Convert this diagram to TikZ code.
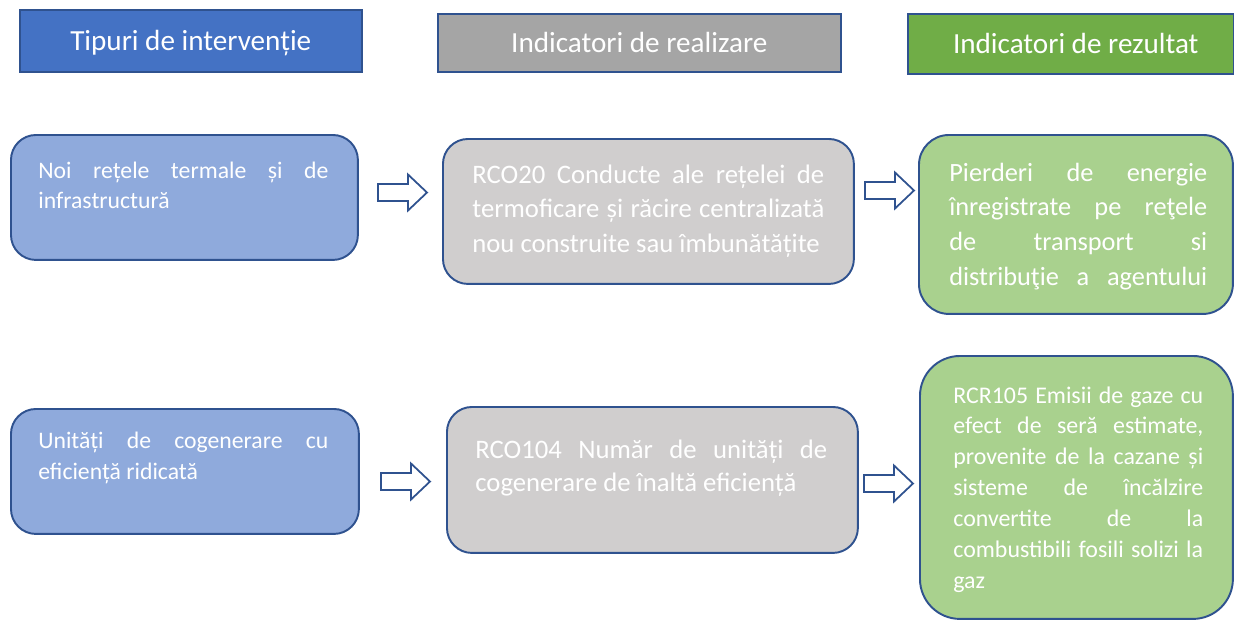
\documentclass[tikz,border=0pt]{standalone}
\usepackage{fontspec}
\setmainfont{Carlito}
\usetikzlibrary{calc}
\definecolor{edgeblue}{HTML}{2F528F}
\definecolor{hdrblue}{HTML}{4472C4}
\definecolor{hdrgray}{HTML}{A5A5A5}
\definecolor{hdrgreen}{HTML}{70AD47}
\definecolor{boxblue}{HTML}{8FAADC}
\definecolor{boxgray}{HTML}{D0CECE}
\definecolor{boxgreen}{HTML}{A9D18E}
\tikzset{
  hdr/.style={draw=edgeblue, line width=0.9pt, anchor=north west, text=white, inner sep=0pt, text height=11.4pt, text depth=0pt, font=\fontsize{16.6}{19}\selectfont},
  blk/.style={draw=edgeblue, line width=1.1pt, anchor=north west, rounded corners=0.5cm, inner sep=0pt},
  txt/.style={anchor=base west, inner sep=0pt, text=white, align=justify},
  arr/.style={draw=edgeblue, line width=1pt, fill=white, line join=miter}
}
\def\blockarrow(#1,#2){\draw[arr] (#1,#2) ++(0,-8.5) -- ++(30,0) -- ++(0,-9.5) -- ++(19,18) -- ++(-19,18) -- ++(0,-9.5) -- ++(-30,0) -- cycle;}

\begin{document}
\begin{tikzpicture}[x=0.02cm, y=-0.02cm]
	%%%%% START %%%%%
	\useasboundingbox (0,0) rectangle (1234,620);
	
	\node[hdr, fill=hdrblue, minimum width=6.84cm, minimum height=1.24cm] (h1) at (19,9) {Tipuri de intervenție};
	\node[hdr, fill=hdrgray, minimum width=8.06cm, minimum height=1.16cm] (h2) at (437,13) {Indicatori de realizare};
	\node[hdr, fill=hdrgreen, minimum width=6.52cm, minimum height=1.2cm] (h3) at (907,13) {\hspace{0.2cm}Indicatori de rezultat};
	
	\node[blk, fill=boxblue, minimum width=6.94cm, minimum height=2.5cm] (a1) at (10,134) {};
	\node[blk, fill=boxgray, minimum width=8.22cm, minimum height=2.9cm] (b1) at (442,138) {};
	\node[blk, fill=boxgreen, minimum width=6.28cm, minimum height=3.58cm, rounded corners=0.6cm] (c1) at (918,134) {};
	
	\node[blk, fill=boxblue, minimum width=6.96cm, minimum height=2.5cm] (a2) at (10,408) {};
	\node[blk, fill=boxgray, minimum width=8.22cm, minimum height=2.92cm] (b2) at (446,406) {};
	\node[blk, fill=boxgreen, minimum width=6.26cm, minimum height=5.26cm, rounded corners=0.8cm] (c2) at (919,355) {};
	
	\node[txt, text width=5.8cm, font=\fontsize{13.5}{17.6}\selectfont] (a1t) at (38,178)
		{Noi rețele termale și de\linebreak infrastructură};
	\node[txt, text width=7.04cm, font=\fontsize{15.2}{19.8}\selectfont] (b1t) at (472,183)
		{RCO20 Conducte ale rețelei de\linebreak termoficare și răcire centralizată\linebreak nou construite sau îmbunătățite};
	\node[txt, text width=5.16cm, font=\fontsize{15}{19.8}\selectfont] (c1t) at (949,181)
		{Pierderi de energie\linebreak înregistrate pe reţele\linebreak de transport si\linebreak distribuţie a agentului\linebreak};
	
	\node[txt, text width=5.8cm, font=\fontsize{13.5}{18.1}\selectfont] (a2t) at (38,448)
		{Unități de cogenerare cu\linebreak eficiență ridicată};
	\node[txt, text width=7.04cm, font=\fontsize{15.2}{19.3}\selectfont] (b2t) at (475,458)
		{RCO104 Număr de unități de\linebreak cogenerare de înaltă eficiență};
	\node[txt, text width=5cm, font=\fontsize{13.6}{17.6}\selectfont] (c2t) at (953,403)
		{RCR105 Emisii de gaze cu\linebreak efect de seră estimate,\linebreak provenite de la cazane și\linebreak sisteme de încălzire\linebreak convertite de la\linebreak combustibili fosili solizi la\linebreak gaz};
	
	\blockarrow(378,192.5)
	\blockarrow(865,190.5)
	\blockarrow(381,481.5)
	\blockarrow(864,483.5)
	%%%%% END %%%%%
\end{tikzpicture}
\end{document}
